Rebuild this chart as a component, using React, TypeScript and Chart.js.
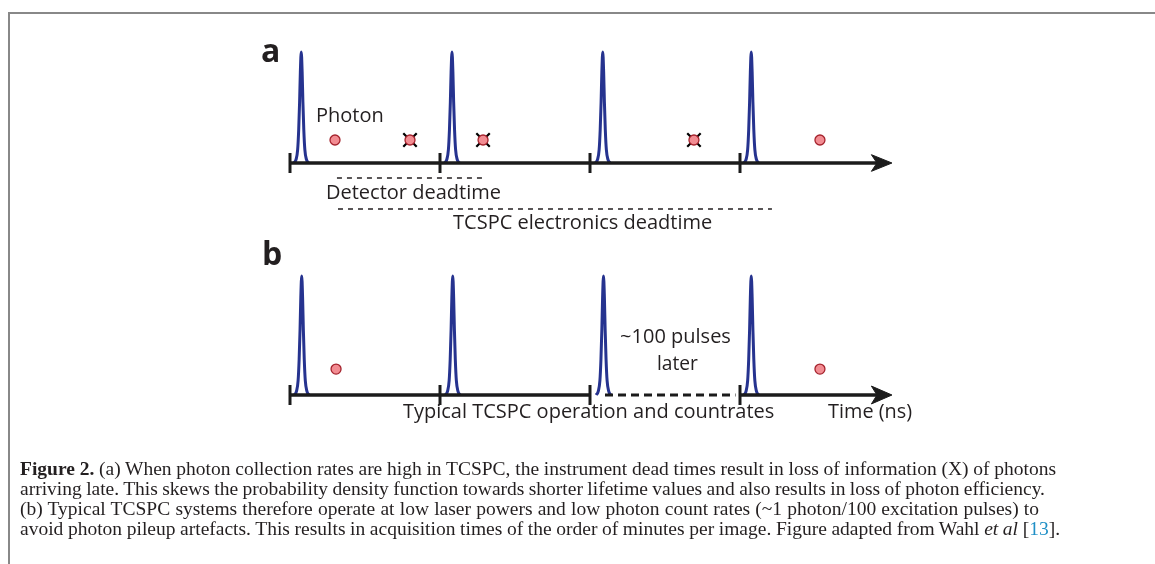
import React, { useEffect, useRef } from 'react';
import { Chart, registerables } from 'chart.js';

Chart.register(...registerables);

// ---------------- data (time in ns, heights relative to pulse peak) ----------------
const tickTimes = [0, 1, 2, 3];
const pulsePeakTimesA = [0.075, 1.08, 2.085, 3.075];
const pulsePeakTimesB = [0.078, 1.085, 2.09, 3.075];
const pulseShapeOffsets = [-0.049, -0.035, -0.024, -0.017, -0.011, -0.006, 0, 0.006, 0.011, 0.017, 0.024, 0.035, 0.049];
const pulseShapeHeights = [0, 0.03, 0.12, 0.3, 0.55, 0.82, 1, 0.82, 0.55, 0.3, 0.12, 0.03, 0];
const photonsDetectedA = [0.3, 3.533];
const photonsLostA = [0.8, 1.287, 2.693];
const photonsDetectedB = [0.307, 3.533];
const photonLevelA = 0.207;
const photonLevelB = 0.218;
const axisEnd = 4.013;
const arrowShapeOffsets = [0, -0.137, -0.1, -0.137, 0];
const arrowShapeHeights = [0, 0.075, 0, -0.075, 0];
const detectorDeadtime = [0.313, 1.313];
const detectorLevel = -0.135;
const electronicsDeadtime = [0.32, 3.213];
const electronicsLevel = -0.414;
const skippedSpanB = [2.1, 2.97];

const panelLabels = ['a', 'b'];
const annotationTexts = [
  'Photon',
  'Detector deadtime',
  'TCSPC electronics deadtime',
  '~100 pulses',
  'later',
  'Typical TCSPC operation and countrates',
  'Time (ns)',
];

// ---------------- layout (pixels) ----------------
const W = 1155;
const H = 564;
const X0_PX = 290;
const PX_PER_NS = 150;
const A_BASE_PX = 163;
const A_TOP_PX = 52;
const B_BASE_PX = 395;
const B_TOP_PX = 276;

function yRange(basePx: number, topPx: number) {
  const per = basePx - topPx;
  const max = topPx / per + 1;
  return { min: max - H / per, max };
}
const xMin = -X0_PX / PX_PER_NS;
const xMax = (W - X0_PX) / PX_PER_NS;
const yA = yRange(A_BASE_PX, A_TOP_PX);
const yB = yRange(B_BASE_PX, B_TOP_PX);

// annotation placement (data coords) and style
const annotationLayout = [
  { axis: 'yA', x: 0.173, y: 0.369, align: 'left', width: 69 },
  { axis: 'yA', x: 0.24, y: -0.324, align: 'left', width: 179 },
  { axis: 'yA', x: 1.087, y: -0.594, align: 'left', width: 262 },
  { axis: 'yB', x: 2.57, y: 0.437, align: 'center', width: 113 },
  { axis: 'yB', x: 2.583, y: 0.21, align: 'center', width: 41 },
  { axis: 'yB', x: 0.753, y: -0.193, align: 'left', width: 375 },
  { axis: 'yB', x: 3.587, y: -0.193, align: 'left', width: 84 },
];
const labelLayout = [
  { axis: 'yA', x: -0.193, y: 0.91 },
  { axis: 'yB', x: -0.187, y: 1.092 },
];

const INK = '#231f20';
const AXIS_INK = '#1b1b1b';
const PULSE_BLUE = '#26338f';
const PHOTON_FILL = 'rgb(242,140,146)';
const PHOTON_EDGE = 'rgb(165,35,45)';

function buildPulses(peaks: number[]) {
  const pts: { x: number; y: number | null }[] = [];
  peaks.forEach((p, i) => {
    pulseShapeOffsets.forEach((o, j) => pts.push({ x: p + o, y: pulseShapeHeights[j] }));
    if (i < peaks.length - 1) pts.push({ x: p + 0.5, y: null });
  });
  return pts;
}
const level = (xs: number[], y: number) => xs.map((x) => ({ x, y }));
const arrow = () => arrowShapeOffsets.map((o, i) => ({ x: axisEnd + o, y: arrowShapeHeights[i] }));

const textPlugin = {
  id: 'diagramText',
  afterDatasetsDraw(chart: any) {
    const { ctx, scales } = chart;
    ctx.save();
    ctx.fillStyle = INK;
    ctx.textBaseline = 'alphabetic';
    annotationLayout.forEach((a, i) => {
      ctx.font = '20px "Open Sans"';
      ctx.textAlign = a.align;
      const px = scales.x.getPixelForValue(a.x);
      const py = scales[a.axis].getPixelForValue(a.y);
      ctx.fillText(annotationTexts[i], px, py, a.width);
    });
    labelLayout.forEach((l, i) => {
      ctx.font = 'bold 32px "Open Sans"';
      ctx.textAlign = 'left';
      ctx.fillText(panelLabels[i], scales.x.getPixelForValue(l.x), scales[l.axis].getPixelForValue(l.y));
    });
    ctx.restore();
  },
};

function Diagram() {
  const ref = useRef<HTMLCanvasElement>(null);
  useEffect(() => {
    if (!ref.current) return;
    const lineDs = (data: any[], axis: string, extra: any = {}) => ({
      data,
      yAxisID: axis,
      borderColor: AXIS_INK,
      borderWidth: 3.5,
      pointRadius: 0,
      fill: false,
      showLine: true,
      clip: false,
      ...extra,
    });
    const pointDs = (data: any[], axis: string, extra: any = {}) => ({
      data,
      yAxisID: axis,
      showLine: false,
      clip: false,
      ...extra,
    });
    const tickStyle = {
      pointStyle: 'line',
      rotation: 90,
      pointRadius: 10,
      borderWidth: 3,
      borderColor: AXIS_INK,
    };
    const photonStyle = {
      pointStyle: 'circle',
      pointRadius: 5,
      backgroundColor: PHOTON_FILL,
      borderColor: PHOTON_EDGE,
      borderWidth: 1.3,
    };
    const crossStyle = {
      pointStyle: 'crossRot',
      pointRadius: 9.5,
      borderWidth: 2.2,
      borderColor: '#000',
    };
    const pulseStyle = {
      borderColor: PULSE_BLUE,
      borderWidth: 3,
      cubicInterpolationMode: 'monotone',
      spanGaps: false,
    };
    const arrowStyle = {
      borderColor: AXIS_INK,
      backgroundColor: AXIS_INK,
      borderWidth: 1,
      fill: 'shape',
    };
    const chart = new Chart(ref.current, {
      type: 'line',
      data: {
        datasets: [
          // panel a
          lineDs(level([0, axisEnd - 0.1], 0), 'yA'),
          lineDs(arrow(), 'yA', arrowStyle),
          pointDs(level(tickTimes, 0), 'yA', tickStyle),
          lineDs(level(detectorDeadtime, detectorLevel), 'yA', { borderWidth: 1.5, borderDash: [5, 5], borderColor: INK }),
          lineDs(level(electronicsDeadtime, electronicsLevel), 'yA', { borderWidth: 1.5, borderDash: [5, 5], borderColor: INK }),
          lineDs(buildPulses(pulsePeakTimesA), 'yA', pulseStyle),
          pointDs(level(photonsDetectedA, photonLevelA), 'yA', photonStyle),
          pointDs(level(photonsLostA, photonLevelA), 'yA', photonStyle),
          pointDs(level(photonsLostA, photonLevelA), 'yA', crossStyle),
          // panel b
          lineDs([{ x: 0, y: 0 }, { x: 2, y: 0 }, { x: 2.5, y: null }, { x: 3, y: 0 }, { x: axisEnd - 0.1, y: 0 }], 'yB'),
          lineDs(level(skippedSpanB, 0), 'yB', { borderWidth: 3, borderDash: [8, 5] }),
          lineDs(arrow(), 'yB', arrowStyle),
          pointDs(level(tickTimes, 0), 'yB', tickStyle),
          lineDs(buildPulses(pulsePeakTimesB), 'yB', pulseStyle),
          pointDs(level(photonsDetectedB, photonLevelB), 'yB', photonStyle),
        ],
      },
      options: {
        animation: false,
        responsive: false,
        maintainAspectRatio: false,
        events: [],
        layout: { padding: 0, autoPadding: false },
        plugins: { legend: { display: false }, tooltip: { enabled: false }, title: { display: false } },
        scales: {
          x: { type: 'linear', display: false, min: xMin, max: xMax },
          yA: { type: 'linear', axis: 'y', display: false, min: yA.min, max: yA.max },
          yB: { type: 'linear', axis: 'y', display: false, min: yB.min, max: yB.max },
        },
      } as any,
      plugins: [textPlugin],
    } as any);
    return () => chart.destroy();
  }, []);
  return <canvas ref={ref} width={W} height={H} style={{ position: 'absolute', left: 0, top: 0 }} />;
}

const captionLines = [
  { top: 459, width: 1036 },
  { top: 479, width: 1025 },
  { top: 499, width: 1019 },
  { top: 519, width: 1040 },
];

export default function App() {
  const lineStyle = (i: number): React.CSSProperties => ({
    position: 'absolute',
    left: 20,
    top: captionLines[i].top,
    width: captionLines[i].width,
    height: 20,
    lineHeight: '20px',
    fontFamily: '"Liberation Serif", serif',
    fontSize: 19.5,
    wordSpacing: -2,
    color: INK,
    textAlign: 'justify',
    textAlignLast: 'justify' as any,
    whiteSpace: 'normal',
  });
  return (
    <div style={{ position: 'absolute', left: 0, top: 0, width: W, height: H, background: '#fff', overflow: 'hidden' }}>
      <div
        style={{
          position: 'absolute',
          left: 8,
          top: 12,
          width: W - 8,
          height: H - 12,
          borderTop: '2px solid #888',
          borderLeft: '2px solid #888',
          boxSizing: 'border-box',
        }}
      />
      <Diagram />
      <div style={lineStyle(0)}>
        <b>Figure 2.</b> (a) When photon collection rates are high in TCSPC, the instrument dead times result in loss of information (X) of photons
      </div>
      <div style={lineStyle(1)}>
        arriving late. This skews the probability density function towards shorter lifetime values and also results in loss of photon efficiency.
      </div>
      <div style={lineStyle(2)}>
        (b) Typical TCSPC systems therefore operate at low laser powers and low photon count rates (~1 photon/100 excitation pulses) to
      </div>
      <div style={lineStyle(3)}>
        avoid photon pileup artefacts. This results in acquisition times of the order of minutes per image. Figure adapted from Wahl <i>et al</i> [<span style={{ color: '#1f8fc6' }}>13</span>].
      </div>
    </div>
  );
}
